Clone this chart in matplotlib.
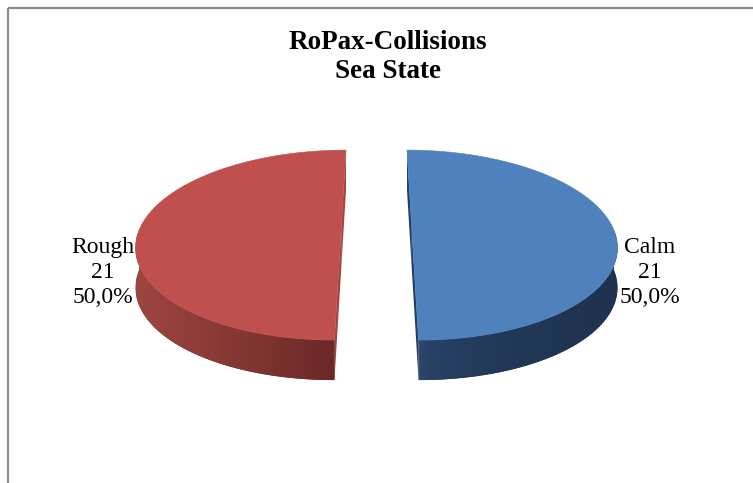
import numpy as np
import matplotlib
matplotlib.use('Agg')
import matplotlib.pyplot as plt
from matplotlib.patches import Polygon
from matplotlib.colors import to_rgb

# data
labels = ['Calm', 'Rough']
counts = [21, 21]
top_colors = ['#4F81BD', '#C0504D']
side_light = ['#2D4B73', '#9E4541']
side_dark = ['#1F324F', '#6B2927']
side_gamma = [0.35, 1.0]
face_colors = ['#243F62', '#A24441']

# pie geometry in pixels
CX, CY = 376.5, 230
RX, RY = 202, 92.6
PERSP = 0.159
DEPTH = 40
EXPLODE = 0.175

SERIF = ['Liberation Serif', 'DejaVu Serif']


def project(X, Y, Z=0.0):
    s = 1.0 / (1.0 + PERSP * Y)
    return CX + X * RX * s, CY - Y * RY * s + Z * DEPTH


fig = plt.figure(figsize=(7.53, 4.83), dpi=100)
ax = fig.add_axes([0, 0, 1, 1])
ax.axis('off')

# chart frame (only top and left edges fall inside the image)
ax.plot([8.5, 8.5], [483, 7.5], color='#8C8C8C', lw=1.6, solid_capstyle='butt')
ax.plot([8.5, 753], [7.5, 7.5], color='#8C8C8C', lw=1.6, solid_capstyle='butt')

total = float(sum(counts))
start = 90.0
for i, (lab, n) in enumerate(zip(labels, counts)):
    frac = n / total
    t0, t1 = start, start - 360.0 * frac
    start = t1
    mid = np.radians((t0 + t1) / 2)
    dx, dy = EXPLODE * np.cos(mid), EXPLODE * np.sin(mid)

    # flat cut faces
    for t in (t0, t1):
        tr = np.radians(t)
        ex, ey = dx + np.cos(tr), dy + np.sin(tr)
        pts = [project(dx, dy, 0), project(ex, ey, 0), project(ex, ey, 1), project(dx, dy, 1)]
        ax.add_patch(Polygon(pts, closed=True, fc=face_colors[i], ec='none'))

    # outer wall, front part only, shaded left to right
    lo, hi = max(min(t0, t1), -180.0), min(max(t0, t1), 0.0)
    if hi > lo:
        tw = np.radians(np.linspace(lo, hi, 150))
        top_pts = [project(dx + np.cos(t), dy + np.sin(t), 0) for t in tw]
        bot_pts = [project(dx + np.cos(t), dy + np.sin(t), 1) for t in tw]
        wall = Polygon(top_pts + bot_pts[::-1], closed=True, fc=side_dark[i], ec='none')
        ax.add_patch(wall)
        xs = np.array([p[0] for p in top_pts + bot_pts])
        ys = np.array([p[1] for p in top_pts + bot_pts])
        u = np.linspace(0, 1, 256) ** side_gamma[i]
        a, b = np.array(to_rgb(side_light[i])), np.array(to_rgb(side_dark[i]))
        grad = (a + (b - a) * u[:, None])[None, :, :]
        im = ax.imshow(grad, extent=(xs.min(), xs.max(), ys.max(), ys.min()),
                       aspect='auto', interpolation='bilinear', zorder=1)
        im.set_clip_path(wall)

    # top surface
    ts = np.radians(np.linspace(t0, t1, 300))
    pts = [project(dx, dy, 0)] + [project(dx + np.cos(t), dy + np.sin(t), 0) for t in ts]
    ax.add_patch(Polygon(pts, closed=True, fc=top_colors[i], ec=top_colors[i], lw=0.4, zorder=2))

    # data label outside the slice
    side = np.sign(np.cos(mid))
    ex, _ = project(dx + np.cos(mid), 0.0)
    pct = f'{100.0 * frac:.1f}%'.replace('.', ',')
    ax.text(ex + side * 36, 237, f'{lab}\n{n}\n{pct}', ha='center', va='top',
            multialignment='center', fontsize=17, family=SERIF, linespacing=1.25,
            color='black')

ax.text(388, 30, 'RoPax-Collisions\nSea State', ha='center', va='top',
        fontsize=19.5, fontweight='bold', family=SERIF, linespacing=1.22)

ax.set_xlim(0, 753)
ax.set_ylim(483, 0)
fig.savefig('out.png', dpi=100)
